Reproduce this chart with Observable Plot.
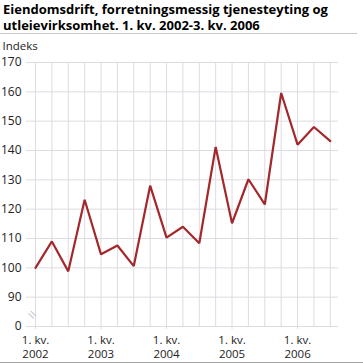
<!DOCTYPE html>
<html>
<head>
<meta charset="utf-8">
<script src="https://cdn.jsdelivr.net/npm/d3@7"></script>
<script src="https://cdn.jsdelivr.net/npm/@observablehq/plot@0.6"></script>
<style>
  html, body { margin: 0; padding: 0; background: #fff; }
  body { width: 363px; height: 363px; overflow: hidden; font-family: "Open Sans", sans-serif; }
  #title { font-weight: bold; font-size: 13px; line-height: 16px; color: #000; padding: 1px 0 0 3px; height: 34px; box-sizing: border-box; border-bottom: 1px solid #c8c8c8; width: 357px; }
  #chart svg { display: block; }
  #chart { border-bottom: 1px solid #a0a0a0; width: 363px; }
</style>
</head>
<body>
<div id="title">Eiendomsdrift, forretningsmessig tjenesteyting og utleievirksomhet. 1. kv. 2002-3. kv. 2006</div>
<div id="chart"></div>
<script>
const quarters = ["2002K1","2002K2","2002K3","2002K4","2003K1","2003K2","2003K3","2003K4","2004K1","2004K2","2004K3","2004K4","2005K1","2005K2","2005K3","2005K4","2006K1","2006K2","2006K3"];
const values = [100, 109, 98.8, 123.2, 104.6, 107.6, 100.6, 128, 110.3, 114, 108.4, 141.2, 115.2, 130.2, 121.6, 159.6, 142, 148, 143.2];
const yTicks = [80, 90, 100, 110, 120, 130, 140, 150, 160, 170];
const yTickLabels = ["0", "90", "100", "110", "120", "130", "140", "150", "160", "170"];
const xTickIdx = [0, 4, 8, 12, 16];
const xTickLabels = ["1. kv.\n2002", "1. kv.\n2003", "1. kv.\n2004", "1. kv.\n2005", "1. kv.\n2006"];

const data = quarters.map((q, i) => ({i, q, v: values[i]}));
const grid = "#dcdce2";

const chart = Plot.plot({
  width: 363,
  height: 328,
  marginTop: 28,
  marginLeft: 26,
  marginRight: 25,
  marginBottom: 36,
  style: {fontFamily: "Open Sans, sans-serif", fontSize: "12px", color: "#222", background: "#fff"},
  x: {type: "linear", domain: [-0.55, 18.5], axis: null, label: null},
  y: {domain: [80, 170], axis: null, label: null},
  marks: [
    Plot.ruleX(data, {x: "i", y1: 80, y2: 170, stroke: grid, strokeWidth: 1}),
    Plot.ruleY(yTicks, {stroke: grid, strokeWidth: 1}),
    Plot.axisY(yTicks, {tickSize: 0, tickPadding: 5, label: null, tickFormat: (d, k) => yTickLabels[yTicks.indexOf(d)], fontSize: 12, fill: "#222"}),
    Plot.axisX(xTickIdx, {tickSize: 3, tickPadding: 4, label: null, stroke: grid, tickFormat: d => xTickLabels[xTickIdx.indexOf(d)], fontSize: 11.5, fill: "#222", lineHeight: 1.24}),
    Plot.text([85], {y: d => d, frameAnchor: "left", dx: 2, text: () => "=", rotate: 45, fontSize: 16, fill: "#c8c8cc"}),
    Plot.line(data, {x: "i", y: "v", stroke: "#a3282b", strokeWidth: 2.2, strokeLinejoin: "miter"}),
    Plot.text(["Indeks"], {frameAnchor: "top-left", dx: -24, dy: -21, text: d => d, fontSize: 11.5, fill: "#222"})
  ]
});
document.getElementById("chart").appendChild(chart);
</script>
</body>
</html>
